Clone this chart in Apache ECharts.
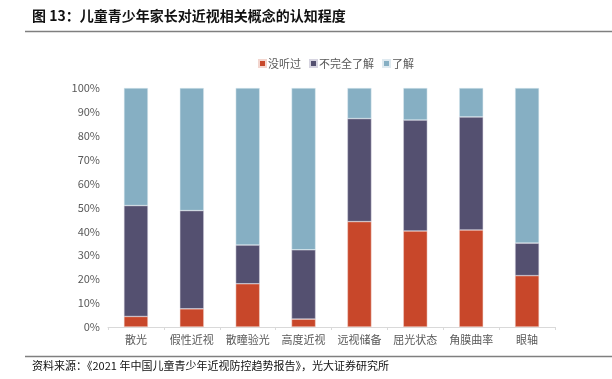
<!DOCTYPE html>
<html><head><meta charset="utf-8">
<script src="https://cdn.jsdelivr.net/npm/echarts@6/dist/echarts.min.js"></script>
<style>html,body{margin:0;padding:0;background:#fff;}#c{width:612px;height:379px;}</style>
</head><body><div id="c"></div>
<script>
const categories = ['散光','假性近视','散瞳验光','高度近视','远视储备','屈光状态','角膜曲率','眼轴'];
const seriesNames = ['没听过','不完全了解','了解'];
const neverHeard = [4.4, 7.6, 18.1, 3.3, 44.1, 40.2, 40.6, 21.5];
const partial = [46.4, 41.1, 16.2, 29.0, 43.1, 46.4, 47.3, 13.6];
const known = [49.2, 51.3, 65.7, 67.7, 12.8, 13.4, 12.1, 64.9];
const yTicks = ['0%','10%','20%','30%','40%','50%','60%','70%','80%','90%','100%'];

const colors = ['#C8472A','#545070','#86AFC3'];
const chart = echarts.init(document.getElementById('c'), null, {renderer:'canvas'});
const font = '"Noto Sans CJK SC", sans-serif';
chart.setOption({
  animation:false,
  textStyle:{fontFamily:font},
  graphic:[
    {type:'text', left:32, top:9, style:{text:'图 13：儿童青少年家长对近视相关概念的认知程度', font:'bold 14px "Noto Sans CJK SC"', fill:'#111'}},
    {type:'line', shape:{x1:25,y1:31.5,x2:612,y2:31.5}, style:{stroke:'#7f7f7f', lineWidth:1.5}},
    {type:'line', shape:{x1:25,y1:356.5,x2:612,y2:356.5}, style:{stroke:'#7f7f7f', lineWidth:1.5}},
    {type:'text', left:32, top:360, style:{text:'资料来源：《2021 年中国儿童青少年近视防控趋势报告》，光大证券研究所', font:'11px "Noto Sans CJK SC"', fill:'#111'}}
  ],
  legend:{
    top:53, left:253, itemWidth:7, itemHeight:7, itemGap:8,
    icon:'rect',
    textStyle:{color:'#595959', fontSize:11, padding:[0,0,0,-3]},
    data:seriesNames
  },
  grid:{left:108, right:57, top:88, bottom:52},
  xAxis:{
    type:'category', data:categories,
    axisLine:{lineStyle:{color:'#d9d9d9'}},
    axisTick:{show:true, lineStyle:{color:'#d9d9d9'}, length:3},
    axisLabel:{color:'#595959', fontSize:11, margin:7, interval:0}
  },
  yAxis:{
    type:'value', min:0, max:100, interval:10,
    axisLine:{show:false}, axisTick:{show:false},
    splitLine:{show:false},
    axisLabel:{color:'#595959', fontSize:11, margin:8, formatter:(v)=>yTicks[Math.round(v/10)]}
  },
  series:[
    {name:seriesNames[0], type:'bar', stack:'a', data:neverHeard, barWidth:'43%', itemStyle:{color:colors[0], borderColor:'#f3d6cf', borderWidth:0.5}},
    {name:seriesNames[1], type:'bar', stack:'a', data:partial, barWidth:'43%', itemStyle:{color:colors[1], borderColor:'#d6d4e0', borderWidth:0.5}},
    {name:seriesNames[2], type:'bar', stack:'a', data:known, barWidth:'43%', itemStyle:{color:colors[2], borderColor:'#dfeaf0', borderWidth:0.5}}
  ]
});
</script></body></html>
